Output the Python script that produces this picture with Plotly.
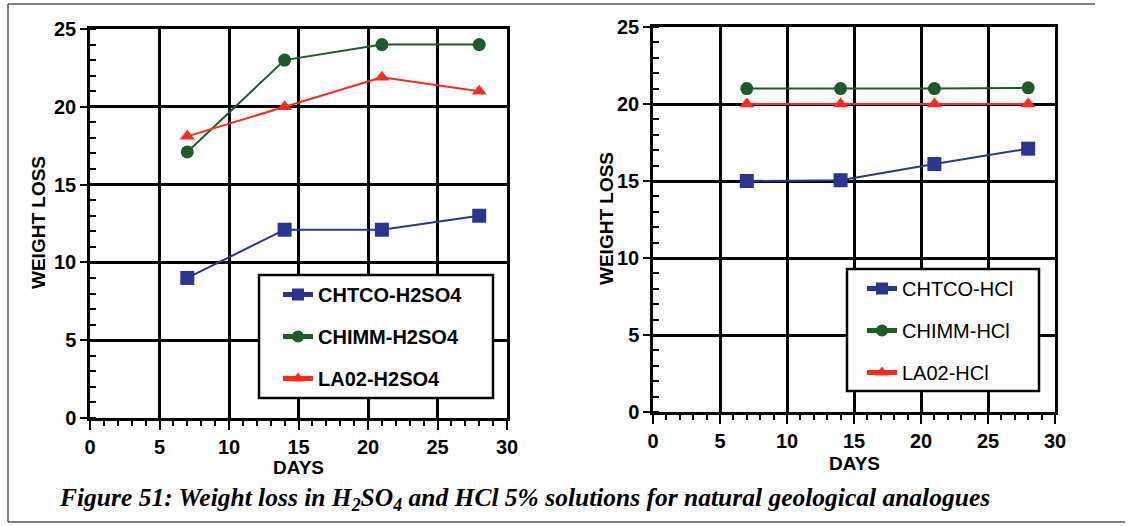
import plotly.graph_objects as go

# Sampling days
days = [7, 14, 21, 28]

# Weight loss in 5% H2SO4
chtco_h2so4 = [9.0, 12.1, 12.1, 13.0]
chimm_h2so4 = [17.1, 23.0, 24.0, 24.0]
la02_h2so4 = [18.1, 20.0, 21.9, 21.0]

# Weight loss in 5% HCl
chtco_hcl = [15.0, 15.05, 16.1, 17.1]
chimm_hcl = [21.0, 21.0, 21.0, 21.05]
la02_hcl = [20.0, 20.0, 20.0, 20.0]

x_ticks = [0, 5, 10, 15, 20, 25, 30]
y_ticks = [0, 5, 10, 15, 20, 25]

BLUE = "#2b3591"
GREEN = "#1f5a2b"
RED = "#ff2a1f"
SANS = "Liberation Sans, Arial, sans-serif"

W, H = 1133, 526


def px_x(p):
    return p / W


def px_y(p):
    return 1 - p / H


fig = go.Figure()

series = [
    ("x", "y", "legend", "-H2SO4", [chtco_h2so4, chimm_h2so4, la02_h2so4]),
    ("x2", "y2", "legend2", "-HCl", [chtco_hcl, chimm_hcl, la02_hcl]),
]
names = ["CHTCO", "CHIMM", "LA02"]
colors = [BLUE, GREEN, RED]
symbols = ["square", "circle", "triangle-up"]
sizes = [14, 13, 13]

for xa, ya, leg, suffix, values in series:
    for name, col, sym, sz, vals in zip(names, colors, symbols, sizes, values):
        fig.add_trace(go.Scatter(
            x=days, y=vals, xaxis=xa, yaxis=ya,
            mode="lines+markers",
            name=name + suffix,
            legend=leg,
            legendgroup=leg + name,
            line=dict(color=col, width=2),
            marker=dict(symbol=sym, size=sz, color=col),
        ))

TICKFONT = dict(family=SANS, size=20, color="black", weight="bold")


def x_axis(domain, anchor):
    return dict(
        domain=domain, anchor=anchor, range=[0, 30], automargin=False,
        tickvals=x_ticks, ticks="outside", ticklen=9, tickwidth=2,
        tickcolor="black",
        minor=dict(dtick=1, ticks="outside", ticklen=5, tickwidth=2,
                   tickcolor="black", showgrid=False),
        showgrid=True, gridcolor="black", gridwidth=2.5,
        showline=True, linecolor="black", linewidth=2.5, mirror=True,
        zeroline=False, tickfont=TICKFONT,
    )


def y_axis(domain, anchor):
    return dict(
        domain=domain, anchor=anchor, range=[0, 25], automargin=False,
        tickvals=y_ticks, ticks="outside", ticklen=7, tickwidth=2,
        tickcolor="black",
        minor=dict(dtick=1, ticks="inside", ticklen=6, tickwidth=2,
                   tickcolor="black", showgrid=False),
        showgrid=True, gridcolor="black", gridwidth=2.5,
        showline=True, linecolor="black", linewidth=2.5, mirror=True,
        zeroline=False, tickfont=TICKFONT,
    )


legend_common = dict(
    bgcolor="rgba(0,0,0,0)", borderwidth=0,
    tracegroupgap=13, xanchor="left", yanchor="top",
    itemsizing="constant", traceorder="grouped",
)

fig.update_layout(
    width=W, height=H,
    margin=dict(l=0, r=0, t=0, b=0),
    paper_bgcolor="white", plot_bgcolor="white",
    xaxis=x_axis([px_x(90), px_x(507)], "y"),
    yaxis=y_axis([px_y(418), px_y(29)], "x"),
    xaxis2=x_axis([px_x(653), px_x(1055)], "y2"),
    yaxis2=y_axis([px_y(412), px_y(27)], "x2"),
    legend=dict(
        x=px_x(278), y=px_y(275),
        font=dict(family=SANS, size=20, color="black", weight="bold"),
        **legend_common,
    ),
    legend2=dict(
        x=px_x(862), y=px_y(269),
        font=dict(family=SANS, size=20, color="black"),
        **legend_common,
    ),
    showlegend=True,
)

# Legend frames
for x0, x1, y0, y1 in [(259, 493, 275, 398), (847, 1039, 269, 391)]:
    fig.add_shape(type="rect", xref="paper", yref="paper",
                  x0=px_x(x0), x1=px_x(x1), y0=px_y(y1), y1=px_y(y0),
                  fillcolor="white", line=dict(color="black", width=2.5),
                  layer="above")

# Axis titles
TITLEFONT = dict(family=SANS, size=19, color="black")
for x, y in [(38, 223), (607, 219)]:
    fig.add_annotation(xref="paper", yref="paper", x=px_x(x), y=px_y(y),
                       text="<b>WEIGHT LOSS</b>", textangle=-90,
                       showarrow=False, font=TITLEFONT,
                       xanchor="center", yanchor="middle")
for x, y in [(299, 468), (854, 463)]:
    fig.add_annotation(xref="paper", yref="paper", x=px_x(x), y=px_y(y),
                       text="<b>DAYS</b>", showarrow=False, font=TITLEFONT,
                       xanchor="center", yanchor="middle")

# Caption under the two panels
fig.add_annotation(
    xref="paper", yref="paper", x=px_x(57), y=px_y(499),
    xanchor="left", yanchor="middle", showarrow=False,
    text="<b><i>Figure 51: Weight loss in H<sub>2</sub>SO<sub>4</sub> and HCl 5% "
         "solutions for natural geological analogues</i></b>",
    font=dict(family="Liberation Serif, Times New Roman, serif", size=25.5,
              color="black"),
)

# Page frame lines
frame = dict(color="#4f5c5c", width=1.5)
fig.add_shape(type="line", xref="paper", yref="paper",
              x0=px_x(8), x1=px_x(8), y0=px_y(522), y1=px_y(4), line=frame)
fig.add_shape(type="line", xref="paper", yref="paper",
              x0=px_x(8), x1=px_x(1095), y0=px_y(4), y1=px_y(4), line=frame)
fig.add_shape(type="line", xref="paper", yref="paper",
              x0=px_x(8), x1=px_x(1125), y0=px_y(522), y1=px_y(522), line=frame)

fig.write_html("out.html")
